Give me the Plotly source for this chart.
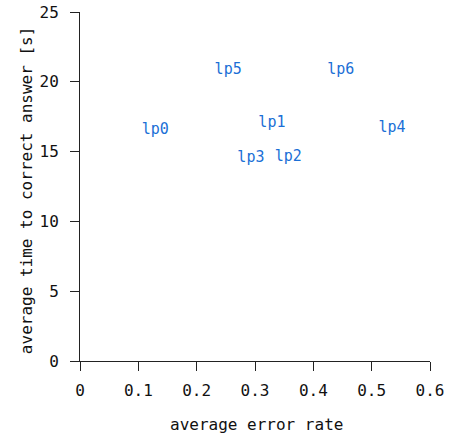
import plotly.graph_objects as go

labels = ["lp0", "lp1", "lp2", "lp3", "lp4", "lp5", "lp6"]
error_rate = [0.129, 0.329, 0.357, 0.293, 0.535, 0.254, 0.447]
time_to_answer = [16.5, 17.05, 14.6, 14.5, 16.7, 20.8, 20.8]

x_ticks = [0, 0.1, 0.2, 0.3, 0.4, 0.5, 0.6]
x_tick_text = ["0", "0.1", "0.2", "0.3", "0.4", "0.5", "0.6"]
y_ticks = [0, 5, 10, 15, 20, 25]

font_mono = "DejaVu Sans Mono"

fig = go.Figure(go.Scatter(
    x=error_rate, y=time_to_answer, text=labels, mode="text",
    textposition="middle center",
    textfont=dict(family=font_mono, size=15, color="#1b6fd6"),
    hoverinfo="x+y+text",
))

axis_common = dict(
    showgrid=False, zeroline=False, showline=True, linecolor="#222",
    linewidth=1, ticks="outside", ticklen=9, tickcolor="#222",
    tickfont=dict(family=font_mono, size=16, color="#111"),
    automargin=False,
)

fig.update_layout(
    width=450, height=434,
    margin=dict(l=80, r=20, t=12, b=73),
    plot_bgcolor="white", paper_bgcolor="white",
    showlegend=False,
    xaxis=dict(range=[0, 0.6], tickvals=x_ticks, ticktext=x_tick_text,
               ticklabelstandoff=6, **axis_common),
    yaxis=dict(range=[0, 25], tickvals=y_ticks, ticklabelstandoff=8,
               **axis_common),
    annotations=[
        dict(text="average error rate", xref="paper", yref="paper",
             x=0.503, y=-0.183, xanchor="center", yanchor="middle",
             showarrow=False,
             font=dict(family=font_mono, size=16, color="#111")),
        dict(text="average time to correct answer [s]", xref="paper",
             yref="paper", x=-0.151, y=0.49, xanchor="center",
             yanchor="middle", textangle=-90, showarrow=False,
             font=dict(family=font_mono, size=16, color="#111")),
    ],
)

fig.write_html("out.html", config={"displayModeBar": False},
               post_script="document.body.style.margin='0';")
